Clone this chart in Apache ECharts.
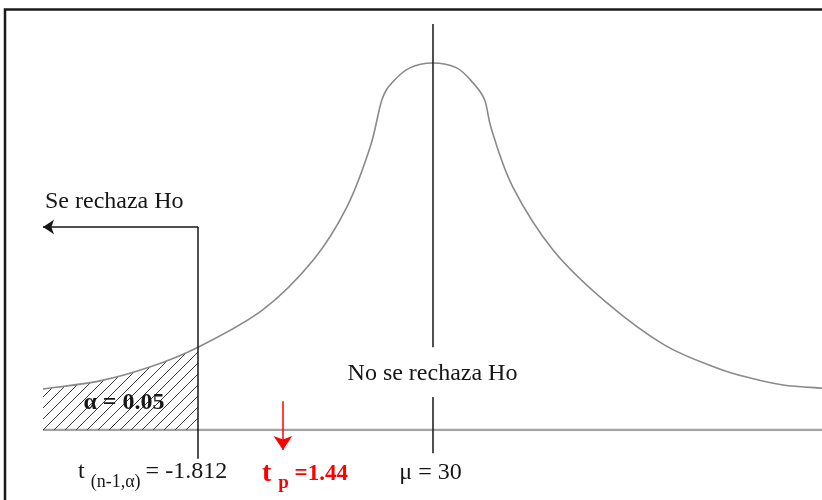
<!DOCTYPE html>
<html>
<head>
<meta charset="utf-8">
<script src="https://cdn.jsdelivr.net/npm/echarts@6/dist/echarts.min.js"></script>
<style>
  html, body { margin: 0; padding: 0; background: #fff; }
  #chart { width: 822px; height: 500px; }
</style>
</head>
<body>
<div id="chart"></div>
<script>
// Schematic density curve (position along the axis, height of the curve)
const curveX = [0, 7.3, 13.7, 19.9, 28.2, 34.7, 39.0, 42.0, 43.5, 44.9, 47.1, 50,
                53.1, 55.2, 56.7, 57.6, 60.3, 65.5, 72.4, 79.8, 86.5, 90.8, 95.0, 100];
const curveY = [10.1, 12.1, 15.5, 20.4, 29.6, 41.9, 54.9, 69.7, 81.3, 85.7, 89.2, 90.4,
                89.2, 85.5, 81.3, 73.9, 59.9, 44.3, 31.3, 20.9, 15.3, 12.8, 11.1, 10.3];

// Positions of the reference lines on the schematic axis
const critPos = 19.9;   // critical value
const tpPos = 30.8;     // test statistic
const muPos = 50;       // mean
const axisStart = 0, axisEnd = 100;

// Labels
const critValue = '-1.812';
const tpValue = '1.44';
const muValue = '30';
const alphaValue = '0.05';

const serif = '"Liberation Serif", "DejaVu Serif", serif';
const ink = '#161616';
const red = '#ff0000';

const curveData = curveX.map((x, i) => [x, curveY[i]]);
const tailEnd = curveX.indexOf(critPos);

// Diagonal hatch pattern for the rejection region
function hatchPattern() {
  const s = 11;
  const c = document.createElement('canvas');
  c.width = s; c.height = s;
  const g = c.getContext('2d');
  g.strokeStyle = '#3a3a3a';
  g.lineWidth = 1;
  g.beginPath();
  g.moveTo(-1, s + 1); g.lineTo(s + 1, -1);
  g.moveTo(-2, 1); g.lineTo(1, -2);
  g.moveTo(s - 1, s + 2); g.lineTo(s + 2, s - 1);
  g.stroke();
  return c;
}
const hatch = hatchPattern();

// Cubic Bezier segments (Catmull-Rom tangents) through the projected points
function splinePath(pts, last) {
  const n = pts.length;
  let d = 'M ' + pts[0][0] + ' ' + pts[0][1];
  for (let i = 0; i < last; i++) {
    const p0 = pts[Math.max(i - 1, 0)], p1 = pts[i], p2 = pts[i + 1], p3 = pts[Math.min(i + 2, n - 1)];
    d += ' C ' + (p1[0] + (p2[0] - p0[0]) / 6) + ' ' + (p1[1] + (p2[1] - p0[1]) / 6) +
         ' ' + (p2[0] - (p3[0] - p1[0]) / 6) + ' ' + (p2[1] - (p3[1] - p1[1]) / 6) +
         ' ' + p2[0] + ' ' + p2[1];
  }
  return d;
}

const chart = echarts.init(document.getElementById('chart'), null, { renderer: 'canvas' });

const labelBase = { show: true, fontFamily: serif, color: ink, fontSize: 24 };

function segment(name, coords, color, arrow, size) {
  return {
    name: name,
    type: 'lines',
    coordinateSystem: 'cartesian2d',
    clip: false,
    symbol: arrow ? ['none', 'arrow'] : 'none',
    symbolSize: size || 10,
    lineStyle: { color: color, width: 1.5, opacity: 1, curveness: 0 },
    data: coords.map(c => ({ coords: c })),
    z: 4
  };
}

chart.setOption({
  animation: false,
  backgroundColor: '#fff',
  grid: { left: 43, right: 0, top: 24, bottom: 70 },
  xAxis: { type: 'value', min: axisStart, max: axisEnd, show: false },
  yAxis: { type: 'value', min: 0, max: 100, show: false },
  graphic: [{
    type: 'rect',
    shape: { x: 5, y: 9.5, width: 900, height: 600 },
    style: { fill: 'none', stroke: '#1a1a1a', lineWidth: 2.5 },
    z: 100
  }],
  series: [
    {
      name: 'curve',
      type: 'custom',
      coordinateSystem: 'cartesian2d',
      data: curveData,
      z: 3,
      renderItem: function (params, api) {
        if (params.dataIndex !== 0) return null;
        const pts = curveData.map(p => api.coord(p));
        const base0 = api.coord([axisStart, 0]);
        const baseC = api.coord([critPos, 0]);
        const tail = splinePath(pts, tailEnd) +
          ' L ' + baseC[0] + ' ' + baseC[1] + ' L ' + base0[0] + ' ' + base0[1] + ' Z';
        return {
          type: 'group',
          children: [
            {
              type: 'path',
              shape: { pathData: tail },
              style: { fill: { image: hatch, repeat: 'repeat' }, stroke: null },
              z2: 1
            },
            {
              type: 'path',
              shape: { pathData: splinePath(pts, pts.length - 1) },
              style: { fill: null, stroke: '#8a8a8a', lineWidth: 1.6 },
              z2: 3
            }
          ]
        };
      }
    },
    {
      name: 'baseline',
      type: 'line',
      data: [[axisStart, 0], [axisEnd, 0]],
      symbol: 'none',
      lineStyle: { color: '#a3a3a3', width: 2.5 },
      z: 2
    },
    segment('mean line', [[[muPos, 100], [muPos, 20.4]], [[muPos, 8.1], [muPos, -5.7]]], ink, false),
    segment('critical line', [[[critPos, -7.1], [critPos, 50]]], ink, false),
    segment('rejection arrow', [[[critPos, 50], [axisStart, 50]]], ink, true, 11),
    segment('statistic arrow', [[[tpPos, 7.1], [tpPos, -4.9]]], red, true, 14),
    {
      name: 'labels',
      type: 'scatter',
      symbolSize: 0,
      clip: false,
      silent: true,
      itemStyle: { opacity: 1 },
      z: 5,
      data: [
        {
          value: [axisStart, 50],
          label: Object.assign({}, labelBase, {
            formatter: 'Se rechaza Ho', position: [2, -25], align: 'left', verticalAlign: 'middle'
          })
        },
        {
          value: [muPos, 0],
          label: Object.assign({}, labelBase, {
            formatter: 'No se rechaza Ho', position: [0, -56], align: 'center', verticalAlign: 'middle'
          })
        },
        {
          value: [axisStart, 0],
          label: Object.assign({}, labelBase, {
            formatter: 'α = ' + alphaValue, fontWeight: 'bold', fontSize: 24,
            position: [81, -27], align: 'center', verticalAlign: 'middle'
          })
        },
        {
          value: [critPos, 0],
          label: Object.assign({}, labelBase, {
            formatter: '{t|t }{sub|(n-1,α)}{m|= ' + critValue + '}',
            position: [-120, 30], align: 'left', verticalAlign: 'top',
            rich: {
              t: { fontFamily: serif, fontSize: 24, color: ink, lineHeight: 26, verticalAlign: 'top' },
              sub: { fontFamily: serif, fontSize: 18, color: ink, lineHeight: 18, padding: [13, 0, 0, 0], verticalAlign: 'top' },
              m: { fontFamily: serif, fontSize: 24, color: ink, lineHeight: 26, padding: [0, 0, 0, 5], verticalAlign: 'top' }
            }
          })
        },
        {
          value: [tpPos, 0],
          label: Object.assign({}, labelBase, {
            formatter: '{t|t }{sub|p}{m| =' + tpValue + '}',
            position: [-21, 30], align: 'left', verticalAlign: 'top',
            rich: {
              t: { fontFamily: serif, fontSize: 28, fontWeight: 'bold', color: red, lineHeight: 28, verticalAlign: 'top' },
              sub: { fontFamily: serif, fontSize: 19, fontWeight: 'bold', color: red, lineHeight: 19, padding: [14, 0, 0, 0], verticalAlign: 'top' },
              m: { fontFamily: serif, fontSize: 23, fontWeight: 'bold', color: red, lineHeight: 28, padding: [3, 0, 0, 0], verticalAlign: 'top' }
            }
          })
        },
        {
          value: [muPos, 0],
          label: Object.assign({}, labelBase, {
            formatter: 'μ = ' + muValue, position: [-2, 43], align: 'center', verticalAlign: 'middle'
          })
        }
      ]
    }
  ]
});
</script>
</body>
</html>
